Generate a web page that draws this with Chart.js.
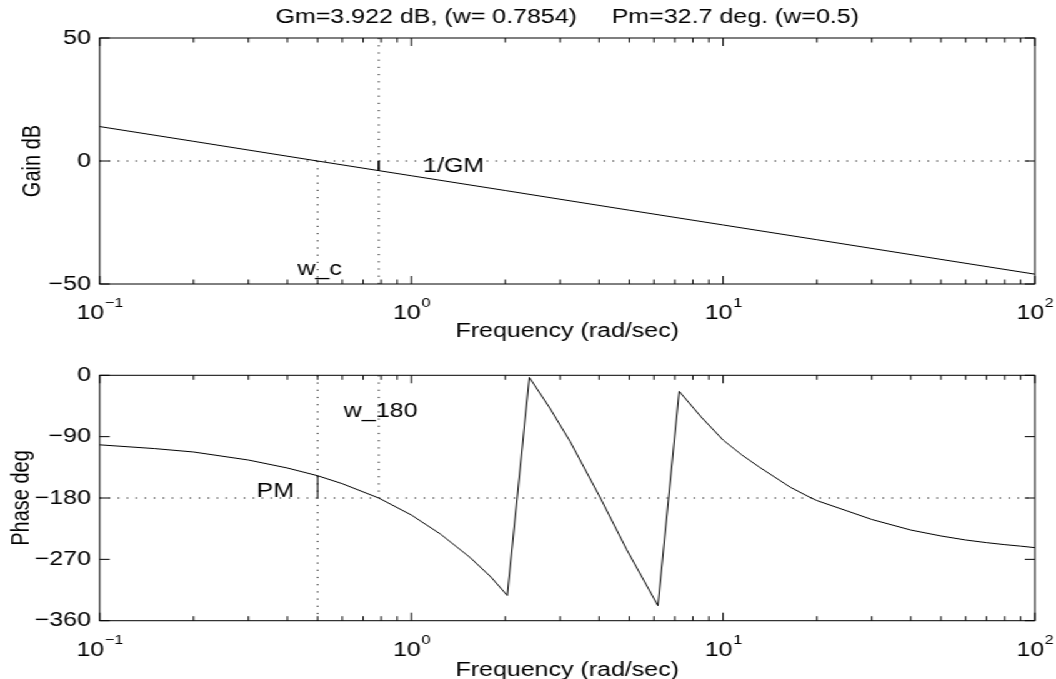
<!DOCTYPE html>
<html>
<head>
<meta charset="utf-8">
<title>Gain and phase margins</title>
<script src="https://cdn.jsdelivr.net/npm/chart.js@4.4.1/dist/chart.umd.min.js"></script>
<style>
  html, body { margin: 0; padding: 0; background: #fff; overflow: hidden; }
  /* the original figure's text is wider than it is tall, so stretch horizontally */
  #stage { position: absolute; left: 0; top: 0; width: 845px; height: 679px; transform: scaleX(1.2497); transform-origin: 0 0; }
  #gainCanvas { position: absolute; left: 0; top: 0; }
  #phaseCanvas { position: absolute; left: 0; top: 340px; }
</style>
</head>
<body>
<div id="stage">
  <canvas id="gainCanvas" width="845" height="360"></canvas>
  <canvas id="phaseCanvas" width="845" height="339"></canvas>
</div>
<script>
// frequency axis, rad/sec
const freqMin = 0.1;
const freqMax = 100;
const decadeExponents = [-1, 0, 1, 2];

// gain curve (dB)
const gainFreq = [0.1, 0.2, 0.5, 1, 2, 5, 10, 20, 50, 100];
const gainDb   = [14, 8, 0, -6, -12, -20, -26, -32, -40, -46];

// phase curve (deg), wrapped into [-360, 0]
const phaseFreq = [0.1, 0.15, 0.2, 0.3, 0.4, 0.5, 0.6, 0.7854, 1.0, 1.24, 1.54, 1.8, 2.03,
                   2.39, 2.78, 3.0, 3.23, 4.04, 4.91, 6.18,
                   7.23, 8.5, 10, 11.5, 13.1, 16.4, 18.8, 20, 25, 30, 40, 50, 60, 70, 80, 90, 100];
const phaseDeg  = [-102, -107.5, -112.5, -124.3, -136, -147.3, -159, -180, -205, -233, -267, -296, -323,
                   -3, -48, -73, -97, -180, -256, -338,
                   -23.5, -61, -95, -117, -135, -164, -178, -183.8, -199, -211.5, -227, -235.7, -241.6, -245.5, -248.4, -250.6, -252.8];

// margins
const gainMarginDb = 3.922;
const wPhaseCross = 0.7854;   // w_180
const phaseMarginDeg = 32.7;
const wGainCross = 0.5;       // w_c

// y tick labels
const gainTicks = [-50, 0, 50];
const phaseTicks = [-360, -270, -180, -90, 0];

const titleText = 'Gm=3.922 dB, (w= 0.7854)     Pm=32.7 deg. (w=0.5)';

const FONT = '"Liberation Sans", Arial, Helvetica, sans-serif';
const STRETCH = 1056 / 845;
const plotLeft = 99.7 / STRETCH;
const plotRight = 1034.8 / STRETCH;

function pts(xs, ys) { return xs.map((x, i) => ({ x: x, y: ys[i] })); }

const dottedStyle = { borderColor: '#000', borderWidth: 1, borderDash: [1.2, 6], pointRadius: 0, showLine: true };
const solidStyle = { borderColor: '#000', borderWidth: 1, pointRadius: 0, showLine: true };

function axesPlugin(o) {
  return {
    id: 'matlabAxes',
    afterDraw(chart) {
      const { ctx, chartArea: a, scales: { x, y } } = chart;
      ctx.save();
      ctx.strokeStyle = '#000';
      ctx.lineWidth = 1;
      ctx.beginPath();
      // log ticks, inward on top and bottom
      decadeExponents.forEach(e => {
        for (let m = 1; m <= 9; m++) {
          const v = m * Math.pow(10, e);
          if (v < freqMin - 1e-9 || v > freqMax + 1e-9) continue;
          const px = x.getPixelForValue(v);
          const len = m === 1 ? 8 : 4.5;
          ctx.moveTo(px, a.top); ctx.lineTo(px, a.top + len);
          ctx.moveTo(px, a.bottom); ctx.lineTo(px, a.bottom - len);
        }
      });
      y.ticks.forEach(t => {
        const py = y.getPixelForValue(t.value);
        ctx.moveTo(a.left, py); ctx.lineTo(a.left + 8, py);
        ctx.moveTo(a.right, py); ctx.lineTo(a.right - 8, py);
      });
      ctx.stroke();
      ctx.strokeRect(a.left, a.top, a.right - a.left, a.bottom - a.top);

      ctx.fillStyle = '#000';
      ctx.textBaseline = 'alphabetic';
      ctx.textAlign = 'left';
      // 10^n labels
      decadeExponents.forEach(e => {
        const px = x.getPixelForValue(Math.pow(10, e));
        const sup = String(e).replace('-', '\u2212');
        ctx.font = '20px ' + FONT;
        const wBase = ctx.measureText('10').width;
        ctx.font = '13px ' + FONT;
        const wSup = ctx.measureText(sup).width;
        const x0 = px - (wBase + wSup) / 2;
        ctx.font = '20px ' + FONT;
        ctx.fillText('10', x0, a.bottom + 35);
        ctx.font = '13px ' + FONT;
        ctx.fillText(sup, x0 + wBase + 0.5, a.bottom + 23);
      });
      // text notes placed in data coordinates
      ctx.font = '20px ' + FONT;
      o.notes.forEach(n => {
        ctx.fillText(n.text, x.getPixelForValue(n.x), y.getPixelForValue(n.y));
      });
      if (o.title) {
        ctx.textAlign = 'center';
        ctx.fillText(o.title, (a.left + a.right) / 2, a.top - 15);
      }
      ctx.restore();
    }
  };
}

function makeBode(canvasId, o) {
  const canvas = document.getElementById(canvasId);
  return new Chart(canvas, {
    type: 'scatter',
    data: { datasets: o.datasets },
    options: {
      responsive: false,
      animation: false,
      events: [],
      layout: { padding: { top: o.areaTop, right: canvas.width - plotRight, left: 0, bottom: 0 } },
      plugins: { legend: { display: false }, tooltip: { enabled: false } },
      scales: {
        x: {
          type: 'logarithmic',
          min: freqMin,
          max: freqMax,
          grid: { display: false, drawTicks: false },
          border: { display: false },
          ticks: { display: false },
          title: {
            display: true, text: 'Frequency (rad/sec)', color: '#000',
            padding: { top: 0, bottom: o.xTitlePad },
            font: { family: FONT, size: 20, lineHeight: o.xTitleLH }
          },
          afterFit: s => { s.height = canvas.height - o.areaBottom; }
        },
        y: {
          type: 'linear',
          min: o.yTicks[0],
          max: o.yTicks[o.yTicks.length - 1],
          afterBuildTicks: s => { s.ticks = o.yTicks.map(v => ({ value: v })); },
          grid: { display: false, drawTicks: false },
          border: { display: false },
          ticks: {
            color: '#000', padding: 7,
            font: { family: FONT, size: 20 },
            callback: v => String(v).replace('-', '\u2212')
          },
          title: {
            display: true, text: o.yTitle, color: '#000',
            padding: { top: o.yTitlePad, bottom: 0 },
            font: { family: FONT, size: 20, lineHeight: 1.2 }
          },
          afterFit: s => { s.width = plotLeft; }
        }
      }
    },
    plugins: [axesPlugin(o)]
  });
}

// Gain plot
makeBode('gainCanvas', {
  areaTop: 38,
  areaBottom: 284,
  xTitleLH: 1.2,
  xTitlePad: 17,
  yTicks: gainTicks,
  yTitle: 'Gain dB',
  yTitlePad: 14,
  title: titleText,
  notes: [
    { text: '1/GM', x: 1.09, y: -4.6 },
    { text: 'w_c', x: 0.4305, y: -46.3 }
  ],
  datasets: [
    Object.assign({ data: pts([freqMin, freqMax], [0, 0]) }, dottedStyle),
    Object.assign({ data: pts([wGainCross, wGainCross], [0, gainTicks[0]]) }, dottedStyle),
    Object.assign({ data: pts([wPhaseCross, wPhaseCross], [gainTicks[2], gainTicks[0]]) }, dottedStyle),
    Object.assign({ data: pts(gainFreq, gainDb) }, solidStyle),
    Object.assign({ data: pts([wPhaseCross, wPhaseCross], [0, -gainMarginDb]) }, solidStyle)
  ]
});

// Phase plot
makeBode('phaseCanvas', {
  areaTop: 35.3,
  areaBottom: 280.7,
  xTitleLH: 0.9,
  xTitlePad: 0,
  yTicks: phaseTicks,
  yTitle: 'Phase deg',
  yTitlePad: 5.3,
  title: null,
  notes: [
    { text: 'PM', x: 0.3187, y: -178.1 },
    { text: 'w_180', x: 0.6069, y: -61.6 }
  ],
  datasets: [
    Object.assign({ data: pts([freqMin, freqMax], [-180, -180]) }, dottedStyle),
    Object.assign({ data: pts([wGainCross, wGainCross], [0, -360]) }, dottedStyle),
    Object.assign({ data: pts([wPhaseCross, wPhaseCross], [0, -180]) }, dottedStyle),
    Object.assign({ data: pts(phaseFreq, phaseDeg) }, solidStyle),
    Object.assign({ data: pts([wGainCross, wGainCross], [-180, -180 + phaseMarginDeg]) }, solidStyle)
  ]
});
</script>
</body>
</html>
